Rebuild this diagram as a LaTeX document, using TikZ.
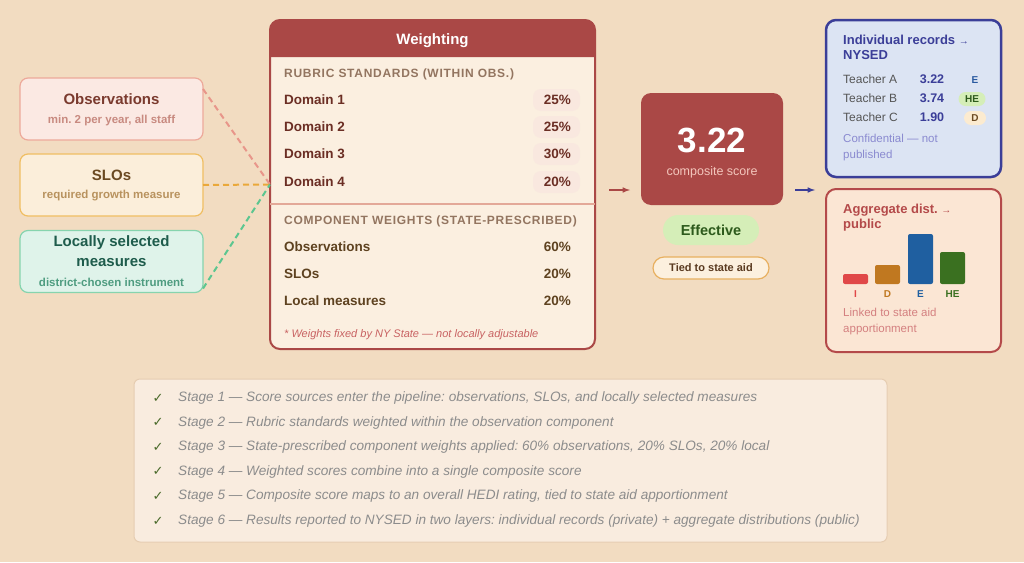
\documentclass[tikz,border=0pt]{standalone}
\usepackage{fontspec}
\setmainfont{Liberation Sans}
\newfontfamily\symfont{DejaVu Sans}
\usetikzlibrary{positioning}
\tikzset{>=latex}
\newcommand\fsz[2]{\fontsize{#1}{#2}\selectfont}
\frenchspacing

\definecolor{bg}{HTML}{F2DCC1}
\definecolor{obsfill}{HTML}{FBE9E3}
\definecolor{obsline}{HTML}{EDA99A}
\definecolor{obsdash}{HTML}{E8968A}
\definecolor{obstxt}{HTML}{7A3A2E}
\definecolor{obssub}{HTML}{C88A80}
\definecolor{slofill}{HTML}{FBEEDA}
\definecolor{sloline}{HTML}{F0BE62}
\definecolor{slodash}{HTML}{EAA83A}
\definecolor{slotxt}{HTML}{6B4A22}
\definecolor{slosub}{HTML}{B8925E}
\definecolor{locfill}{HTML}{DFF3EA}
\definecolor{locline}{HTML}{86D4AE}
\definecolor{locdash}{HTML}{5CC690}
\definecolor{loctxt}{HTML}{1E5C4C}
\definecolor{locsub}{HTML}{4E9C80}
\definecolor{wred}{HTML}{AA4846}
\definecolor{wcream}{HTML}{FBEFE0}
\definecolor{divline}{HTML}{E3A898}
\definecolor{sectxt}{HTML}{937560}
\definecolor{domtxt}{HTML}{6B2E24}
\definecolor{comptxt}{HTML}{5E4220}
\definecolor{pctfill}{HTML}{F9E8DF}
\definecolor{notered}{HTML}{C86262}
\definecolor{scorepink}{HTML}{F3C6BC}
\definecolor{efffill}{HTML}{D5EEB8}
\definecolor{efftxt}{HTML}{2D5A1C}
\definecolor{tiedfill}{HTML}{FCF0DE}
\definecolor{tiedline}{HTML}{E8B060}
\definecolor{tiedtxt}{HTML}{5A3A20}
\definecolor{nblue}{HTML}{3B3E98}
\definecolor{nfill}{HTML}{DCE4F3}
\definecolor{tgray}{HTML}{555555}
\definecolor{confid}{HTML}{8A8AD0}
\definecolor{ebadge}{HTML}{2A5AA0}
\definecolor{dfill}{HTML}{FCEBD0}
\definecolor{afill}{HTML}{FBE6D4}
\definecolor{aline}{HTML}{B44A4A}
\definecolor{linked}{HTML}{D48080}
\definecolor{barI}{HTML}{E04848}
\definecolor{barD}{HTML}{C07820}
\definecolor{barE}{HTML}{1F5FA0}
\definecolor{barHE}{HTML}{3A7020}
\definecolor{notefill}{HTML}{F9ECDF}
\definecolor{noteline}{HTML}{E6CDB2}
\definecolor{chk}{HTML}{4A6A2A}
\definecolor{notegray}{HTML}{8C8C8C}

\tikzset{
  src/.style={rounded corners=8pt, line width=1.2pt, minimum width=183pt, minimum height=62pt, inner sep=0pt, outer sep=0pt},
  panel/.style={rounded corners=10pt, inner sep=0pt, outer sep=0pt},
  feed/.style={dashed, line width=2pt, dash pattern=on 6pt off 4pt},
  row/.style={anchor=west, inner sep=0pt, font=\fsz{13.5}{16}\bfseries},
  pct/.style={anchor=east, inner sep=0pt, font=\fsz{13.5}{16}\bfseries},
  sec/.style={anchor=west, inner sep=0pt, font=\fsz{12}{14}\bfseries\addfontfeature{LetterSpace=6}, text=sectxt},
  badge/.style={rounded corners=7pt, inner sep=0pt, minimum height=14pt, font=\fsz{10}{12}\bfseries},
}

\begin{document}
\begin{tikzpicture}[x=1pt, y=-1pt]
    \fill[bg](0, 0)rectangle(1024, 562);
    \useasboundingbox(0, 0)rectangle(1024, 562);

    % score sources
    \node[src, draw=obsline, fill=obsfill](obs) at (111.5, 109){};
    \node[font=\fsz{15}{18}\bfseries, text=obstxt] at ([yshift=10pt]obs.center){Observations};
    \node[font=\fsz{11.5}{14}\bfseries, text=obssub] at ([yshift=-12pt]obs.center){min. 2 per year, all staff};
    \node[src, draw=sloline, fill=slofill](slo) at (111.5, 185){};
    \node[font=\fsz{15}{18}\bfseries, text=slotxt] at ([yshift=10pt]slo.center){SLOs};
    \node[font=\fsz{11.5}{14}\bfseries, text=slosub] at ([yshift=-11pt]slo.center){required growth measure};
    \node[src, draw=locline, fill=locfill](loc) at (111.5, 261.5){};
    \node[align=center, font=\fsz{15}{20}\bfseries, text=loctxt] at ([yshift=10.5pt]loc.center){Locally selected\\measures};
    \node[font=\fsz{11.5}{14}\bfseries, text=locsub] at ([yshift=-20.5pt]loc.center){district-chosen instrument};

    % weighting panel
    \node[panel, draw=wred, line width=2pt, fill=wcream, minimum width=325pt, minimum height=329pt](weight) at (432.5, 184.5){};
    \fill[wred]([yshift=-37pt]weight.north west)[rounded corners=10pt]--(weight.north west)--(weight.north east)[sharp corners]--([yshift=-37pt]weight.north east)--cycle;
    \node[font=\fsz{15}{18}\bfseries, text=white] at ([yshift=-21pt]weight.north){Weighting};
    \draw[feed, obsdash]([yshift=-11pt]obs.north east)--(weight.west);
    \draw[feed, slodash](slo.east)--(weight.west);
    \draw[feed, locdash]([yshift=4pt]loc.south east)--(weight.west);

    \node[sec] at (284, 74){RUBRIC STANDARDS (WITHIN OBS.)};
    \foreach \d/\p/\y in {1/25/100, 2/25/127, 3/30/154, 4/20/182}{
        \fill[pctfill, rounded corners=8pt](533, \y-11)rectangle(580, \y+11);
        \node[row, text=domtxt] at (284, \y){Domain \d};
        \node[pct, text=domtxt] at (571, \y){\p\%};
    }
    \draw[divline, line width=1.5pt](weight.west |- 0, 204)--(weight.east |- 0, 204);
    \node[sec] at (284, 221){COMPONENT WEIGHTS (STATE-PRESCRIBED)};
    \foreach \c/\p/\y in {Observations/60/247, SLOs/20/274, Local measures/20/301}{
        \node[row, text=comptxt] at (284, \y){\c};
        \node[pct, text=comptxt] at (571, \y){\p\%};
    }
    \node[anchor=west, inner sep=0pt, font=\fsz{11}{13}\itshape, text=notered] at (284, 335){* Weights fixed by NY State — not locally adjustable};

    % composite score
    \node[panel, fill=wred, minimum width=142pt, minimum height=112pt](score) at (712, 149){};
    \node[font=\fsz{35}{40}\bfseries, text=white] at ([yshift=9pt]score.center){3.22};
    \node[font=\fsz{12.5}{15}, text=scorepink] at ([yshift=-23pt]score.center){composite score};
    \coordinate(r1) at (609, 190);
    \coordinate(r2) at (630, 190);
    \draw[->, wred, line width=1.5pt](r1)--(r2);
    \node[rounded corners=15pt, fill=efffill, minimum width=96pt, minimum height=30pt, font=\fsz{14.5}{17}\bfseries, text=efftxt](eff) at (711, 230){Effective};
    \node[rounded corners=11pt, draw=tiedline, line width=1.2pt, fill=tiedfill, minimum width=116pt, minimum height=22pt, font=\fsz{11}{13}\bfseries, text=tiedtxt](tied) at (711, 268){Tied to state aid};
    \coordinate(b1) at (795, 190);
    \coordinate(b2) at (815, 190);
    \draw[->, nblue, line width=1.5pt](b1)--(b2);

    % individual records
    \node[panel, draw=nblue, line width=2.5pt, fill=nfill, minimum width=175pt, minimum height=157pt](indiv) at (913.5, 98.5){};
    \node[anchor=north west, inner sep=0pt, align=left, font=\fsz{13}{15}\bfseries, text=nblue] at (843, 35){Individual records {\fsz{10}{15}→}\\NYSED};
    \foreach \t/\s/\y in {A/3.22/79, B/3.74/98, C/1.90/117}{
        \node[anchor=west, inner sep=0pt, font=\fsz{12}{14}, text=tgray] at (843, \y){Teacher \t};
        \node[inner sep=0pt, font=\fsz{12.5}{14}\bfseries, text=nblue] at (932, \y){\s};
    }
    \node[badge, text=ebadge] at (975, 80){E};
    \node[badge, fill=efffill, text=efftxt, minimum width=27pt] at (972, 99){HE};
    \node[badge, fill=dfill, text=slotxt, minimum width=22pt] at (975, 118){D};
    \node[anchor=north west, inner sep=0pt, align=left, font=\fsz{11.5}{16}, text=confid] at (843, 134){Confidential — not\\published};

    % aggregate distribution
    \node[panel, draw=aline, line width=2pt, fill=afill, minimum width=175pt, minimum height=163pt](aggr) at (913.5, 270.5){};
    \node[anchor=north west, inner sep=0pt, align=left, font=\fsz{13}{15}\bfseries, text=aline] at (843, 204){Aggregate dist. {\fsz{10}{15}→}\\public};
    \foreach \x/\h/\c/\l in {843/274/barI/I, 875/265/barD/D, 908/234/barE/E, 940/252/barHE/HE}{
        \fill[\c, rounded corners=2pt](\x, 284)rectangle(\x+25, \h);
        \node[inner sep=0pt, font=\fsz{10}{12}\bfseries, text=\c] at (\x+12.5, 294){\l};
    }
    \node[anchor=north west, inner sep=0pt, align=left, font=\fsz{11.5}{16}, text=linked] at (843, 308){Linked to state aid\\apportionment};

    % stage notes
    \node[rounded corners=6pt, draw=noteline, line width=1pt, fill=notefill, minimum width=753pt, minimum height=163pt](notes) at (510.5, 460.5){};
    \foreach \txt[count=\i from 0] in {{Stage 1 — Score sources enter the pipeline: observations, SLOs, and locally selected measures},
        {Stage 2 — Rubric standards weighted within the observation component},
        {Stage 3 — State-prescribed component weights applied: 60\% observations, 20\% SLOs, 20\% local},
        {Stage 4 — Weighted scores combine into a single composite score},
        {Stage 5 — Composite score maps to an overall HEDI rating, tied to state aid apportionment},
        {Stage 6 — Results reported to NYSED in two layers: individual records (private) + aggregate distributions (public)}}{
        \node[inner sep=0pt, font=\symfont\fsz{13}{14}, text=chk] at (158, 398+24.6*\i){✓};
        \node[anchor=west, inner sep=0pt, font=\fsz{13.6}{15}\itshape, text=notegray] at (178, 398+24.6*\i){\txt};
    }
\end{tikzpicture}
\end{document}
